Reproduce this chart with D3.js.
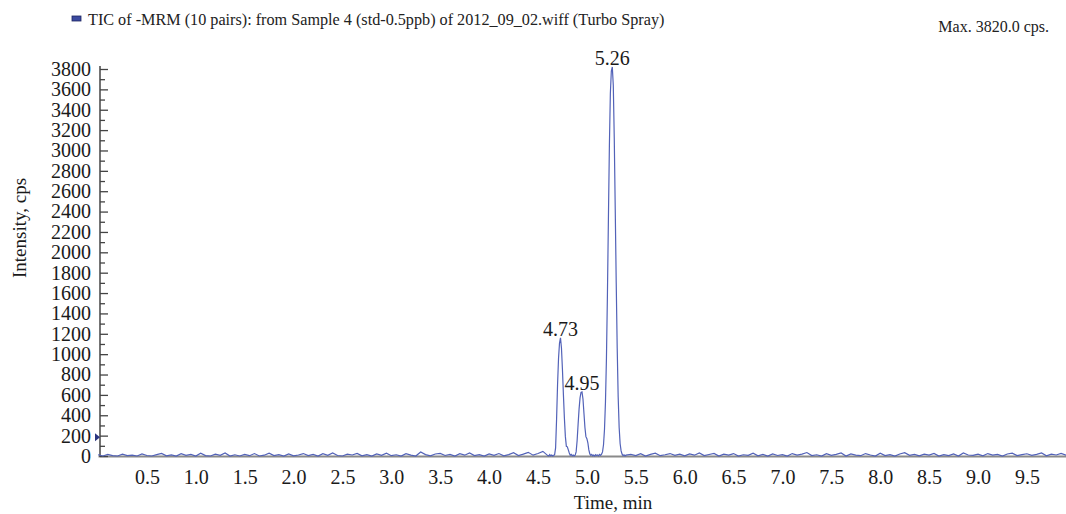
<!DOCTYPE html>
<html>
  <head>
    <meta charset="utf-8" />
    <style>
      body,
      html {
        margin: 0;
        background: #fff;
        font-family: "Liberation Serif", "Times New Roman", serif;
        overflow: hidden;
      }
    </style>
    <script src="https://d3js.org/d3.v7.min.js"></script>
    <title>TIC chromatogram</title>
  </head>

  <body>
    <svg id="tic" width="1066" height="514"></svg>

    <script>
      var title =
        "TIC of -MRM (10 pairs): from Sample 4 (std-0.5ppb) of 2012_09_02.wiff (Turbo Spray)";
      var maxText = "Max. 3820.0 cps.";

      // [time (min), intensity (cps)]
      var trace = [
        [0.0, 12], [0.05, 0], [0.1, 15], [0.15, 4], [0.2, 0], [0.25, 18], [0.3, 3], [0.35, 8], [0.4, 0], [0.45, 20],
        [0.5, 5], [0.55, 0], [0.6, 14], [0.65, 26], [0.7, 2], [0.75, 10], [0.8, 0], [0.85, 22], [0.9, 6], [0.95, 15],
        [1.0, 0], [1.05, 28], [1.1, 4], [1.15, 0], [1.2, 18], [1.25, 6], [1.3, 30], [1.35, 0], [1.4, 12], [1.45, 0],
        [1.5, 16], [1.55, 3], [1.6, 24], [1.65, 0], [1.7, 8], [1.75, 28], [1.8, 4], [1.85, 14], [1.9, 0], [1.95, 20],
        [2.0, 2], [2.05, 10], [2.1, 24], [2.15, 4], [2.2, 15], [2.25, 0], [2.3, 22], [2.35, 6], [2.4, 30], [2.45, 5],
        [2.5, 0], [2.55, 18], [2.6, 10], [2.65, 26], [2.7, 2], [2.75, 14], [2.8, 0], [2.85, 20], [2.9, 6], [2.95, 28],
        [3.0, 3], [3.05, 12], [3.1, 0], [3.15, 22], [3.2, 8], [3.25, 0], [3.3, 40], [3.35, 14], [3.4, 2], [3.45, 20],
        [3.5, 26], [3.55, 5], [3.6, 16], [3.65, 0], [3.7, 22], [3.75, 8], [3.8, 30], [3.85, 4], [3.9, 14], [3.95, 0],
        [4.0, 20], [4.05, 6], [4.1, 24], [4.15, 2], [4.2, 14], [4.25, 32], [4.3, 4], [4.35, 18], [4.4, 36], [4.45, 8],
        [4.5, 24], [4.55, 45],
        [4.6, 4], [4.61, 0], [4.62, 14], [4.63, 2], [4.64, 10], [4.65, 0], [4.66, 6], [4.67, 14],
        [4.68, 80], [4.69, 360], [4.7, 700], [4.71, 960], [4.72, 1110], [4.73, 1160], [4.74, 1060],
        [4.75, 850], [4.76, 600], [4.77, 370], [4.78, 190], [4.79, 95], [4.8, 90], [4.81, 60],
        [4.82, 30], [4.83, 8], [4.84, 16], [4.85, 2], [4.86, 10], [4.87, 0], [4.88, 8], [4.89, 40],
        [4.9, 150], [4.91, 310], [4.92, 460], [4.93, 570], [4.94, 625], [4.95, 630], [4.96, 560],
        [4.97, 420], [4.98, 280], [4.99, 190], [5.0, 170], [5.01, 130], [5.02, 60], [5.03, 20],
        [5.04, 6], [5.05, 16], [5.06, 2], [5.07, 10], [5.08, 0], [5.09, 14], [5.1, 4], [5.11, 10],
        [5.12, 2], [5.13, 16], [5.14, 6], [5.15, 18], [5.16, 40], [5.17, 110], [5.18, 260],
        [5.19, 530], [5.2, 960], [5.21, 1580], [5.22, 2320], [5.23, 3040], [5.24, 3560], [5.25, 3780],
        [5.26, 3820], [5.27, 3640], [5.28, 3120], [5.29, 2420], [5.3, 1700], [5.31, 1060],
        [5.32, 580], [5.33, 280], [5.34, 120], [5.35, 50], [5.36, 18], [5.37, 4], [5.38, 12],
        [5.39, 0], [5.4, 8],
        [5.45, 16], [5.5, 4], [5.55, 22], [5.6, 0], [5.65, 16], [5.7, 28], [5.75, 3], [5.8, 12], [5.85, 24], [5.9, 6], [5.95, 18],
        [6.0, 2], [6.05, 20], [6.1, 8], [6.15, 30], [6.2, 4], [6.25, 15], [6.3, 26], [6.35, 0], [6.4, 18], [6.45, 8],
        [6.5, 24], [6.55, 0], [6.6, 12], [6.65, 6], [6.7, 28], [6.75, 2], [6.8, 16], [6.85, 0], [6.9, 20], [6.95, 5],
        [7.0, 14], [7.05, 0], [7.1, 24], [7.15, 8], [7.2, 18], [7.25, 34], [7.3, 4], [7.35, 12], [7.4, 0], [7.45, 22],
        [7.5, 6], [7.55, 16], [7.6, 30], [7.65, 0], [7.7, 20], [7.75, 8], [7.8, 3], [7.85, 24], [7.9, 10], [7.95, 0],
        [8.0, 28], [8.05, 4], [8.1, 14], [8.15, 0], [8.2, 20], [8.25, 32], [8.3, 6], [8.35, 16], [8.4, 2], [8.45, 18],
        [8.5, 8], [8.55, 26], [8.6, 0], [8.65, 14], [8.7, 4], [8.75, 20], [8.8, 0], [8.85, 30], [8.9, 10], [8.95, 6],
        [9.0, 18], [9.05, 2], [9.1, 24], [9.15, 8], [9.2, 16], [9.25, 0], [9.3, 20], [9.35, 28], [9.4, 4], [9.45, 14],
        [9.5, 22], [9.55, 6], [9.6, 16], [9.65, 30], [9.7, 2], [9.75, 18], [9.8, 10], [9.85, 26], [9.9, 8]
      ];

      var peaks = [
        { t: 4.73, v: 1160, label: "4.73" },
        { t: 4.95, v: 630, label: "4.95" },
        { t: 5.26, v: 3820, label: "5.26" },
      ];

      var xTicks = [0.5, 1.0, 1.5, 2.0, 2.5, 3.0, 3.5, 4.0, 4.5, 5.0, 5.5, 6.0, 6.5, 7.0, 7.5, 8.0, 8.5, 9.0, 9.5];
      var yTicks = [0, 200, 400, 600, 800, 1000, 1200, 1400, 1600, 1800, 2000, 2200, 2400, 2600, 2800, 3000, 3200, 3400, 3600, 3800];
      var yMinor = [100, 300, 500, 700, 900, 1100, 1300, 1500, 1700, 1900, 2100, 2300, 2500, 2700, 2900, 3100, 3300, 3500, 3700];

      var lineColor = "#5262b8";
      var svg = d3.select("#tic");

      var x = d3.scaleLinear().domain([0, 9.9]).range([98, 1066]);
      var y = d3.scaleLinear().domain([0, 3800]).range([456, 69]);

      // header
      svg
        .append("rect")
        .attr("x", 72)
        .attr("y", 16)
        .attr("width", 9)
        .attr("height", 5)
        .attr("fill", "#3b4aa0")
        .attr("stroke", "#1c2560")
        .attr("stroke-width", 0.8);
      svg
        .append("text")
        .attr("x", 88)
        .attr("y", 25)
        .attr("font-size", 16.2)
        .attr("fill", "#222")
        .text(title);
      svg
        .append("text")
        .attr("x", 1049)
        .attr("y", 32)
        .attr("text-anchor", "end")
        .attr("font-size", 16)
        .attr("fill", "#222")
        .text(maxText);

      // x axis
      var xAxis = svg
        .append("g")
        .attr("transform", "translate(0," + y(0) + ")")
        .call(d3.axisBottom(x).tickValues(xTicks).tickSize(0).tickPadding(14).tickFormat(d3.format(".1f")));
      xAxis.select(".domain").attr("stroke", "#8a8a8a").attr("stroke-width", 2);
      xAxis.selectAll("text").attr("font-size", 20).attr("font-family", "Liberation Serif, serif").attr("fill", "#1a1a1a");

      // y axis
      var yAxis = svg
        .append("g")
        .attr("transform", "translate(100,0)")
        .call(
          d3.axisLeft(y).tickValues(yTicks).tickSizeInner(-8).tickSizeOuter(0).tickPadding(9).tickFormat(d3.format("d"))
        );
      yAxis.select(".domain").attr("stroke", "#444").attr("stroke-width", 1.5).attr("d", "M0,66V457");
      yAxis.selectAll("line").attr("stroke", "#444").attr("stroke-width", 1.3);
      yAxis.selectAll("text").attr("font-size", 20).attr("font-family", "Liberation Serif, serif").attr("fill", "#1a1a1a");

      var yMinorAxis = svg
        .append("g")
        .attr("transform", "translate(100,0)")
        .call(d3.axisLeft(y).tickValues(yMinor).tickSizeInner(-5).tickSizeOuter(0).tickFormat(""));
      yMinorAxis.select(".domain").remove();
      yMinorAxis.selectAll("line").attr("stroke", "#444").attr("stroke-width", 1.3);

      // small threshold marker on the y axis
      svg
        .append("path")
        .attr("d", "M95," + (y(185) - 4) + "L100," + y(185) + "L95," + (y(185) + 4) + "Z")
        .attr("fill", "#2a3580");

      // trace
      var line = d3
        .line()
        .x(function (d) {
          return x(d[0]);
        })
        .y(function (d) {
          return y(d[1]);
        });
      svg
        .append("path")
        .datum(trace)
        .attr("d", line)
        .attr("fill", "none")
        .attr("stroke", lineColor)
        .attr("stroke-width", 1.2);

      // peak labels
      svg
        .selectAll(".peak")
        .data(peaks)
        .enter()
        .append("text")
        .attr("class", "peak")
        .attr("x", function (d) {
          return x(d.t);
        })
        .attr("y", function (d) {
          return y(d.v) - 2;
        })
        .attr("text-anchor", "middle")
        .attr("font-size", 20)
        .attr("fill", "#1a1a1a")
        .text(function (d) {
          return d.label;
        });

      // axis titles
      svg
        .append("text")
        .attr("x", 613)
        .attr("y", 509)
        .attr("text-anchor", "middle")
        .attr("font-size", 19)
        .attr("fill", "#1a1a1a")
        .text("Time, min");
      svg
        .append("text")
        .attr("transform", "translate(26,228) rotate(-90)")
        .attr("text-anchor", "middle")
        .attr("font-size", 19)
        .attr("fill", "#1a1a1a")
        .text("Intensity, cps");
    </script>
  </body>
</html>
